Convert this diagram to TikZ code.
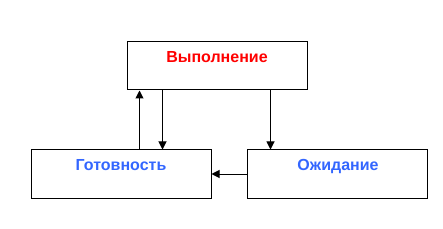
\documentclass[tikz,border=0pt]{standalone}
\usepackage{fontspec}
\setmainfont{Liberation Sans}
\usetikzlibrary{arrows.meta}
\definecolor{rougeEtat}{RGB}{255,0,0}
\definecolor{bleuEtat}{RGB}{51,102,255}
\begin{document}
\begin{tikzpicture}[x=1pt,y=-1pt]
	% Styles
	\tikzstyle{fleche}=[-{Triangle[length=8pt,width=8pt]},line width=1pt]
	\tikzstyle{boite}=[draw,line width=1pt,minimum width=180pt,minimum height=48pt,inner sep=0pt]
	\tikzstyle{etat}=[anchor=base,font=\fontsize{16}{18}\selectfont\bfseries]
	% Cadre
	\useasboundingbox (0,0) rectangle (443,229);
	% Boites
	\node[boite] (Execution) at (217,66) {};
	\node[boite] (Pret) at (121,174) {};
	\node[boite] (Attente) at (337,174) {};
	% Textes
	\node[etat,text=rougeEtat] (tExecution) at (217,63) {Выполнение};
	\node[etat,text=bleuEtat] (tPret) at (121,171) {Готовность};
	\node[etat,text=bleuEtat] (tAttente) at (338,171) {Ожидание};
	% Arcs
	\draw[fleche] ([xshift=109pt]Pret.north west) -- ([xshift=109pt]Pret.north west |- Execution.south);
	\draw[fleche] ([xshift=36pt]Execution.south west) -- ([xshift=36pt]Execution.south west |- Pret.north);
	\draw[fleche] ([xshift=144pt]Execution.south west) -- ([xshift=144pt]Execution.south west |- Attente.north);
	\draw[fleche] (Attente.west) -- (Pret.east);
\end{tikzpicture}
\end{document}
